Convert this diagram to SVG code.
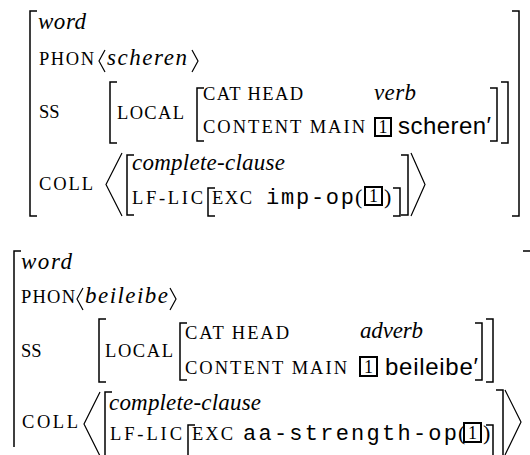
<svg xmlns="http://www.w3.org/2000/svg" width="530" height="455" viewBox="0 0 530 455">
<style>
.it{font-family:"Liberation Serif",serif;font-style:italic;font-size:23px;fill:#000}
.sc{font-family:"Liberation Serif",serif;font-size:18.5px;fill:#000}
.rm{font-family:"Liberation Serif",serif;font-size:22px;fill:#000}
.sf{font-family:"Liberation Sans",sans-serif;font-size:24px;fill:#000}
.tt{font-family:"Liberation Mono",monospace;font-size:22px;fill:#000}
.bx{font-family:"Liberation Serif",serif;font-size:18px;fill:#000;text-anchor:middle}
.br{fill:none;stroke:#000;stroke-width:1.5}
.ang{fill:none;stroke:#000;stroke-width:1.2}
.box{fill:none;stroke:#000;stroke-width:2}
</style>
<rect width="530" height="455" fill="#fff"/>
<g id="avm1">
  <path class="br" d="M37,11H30V216H37 M512,11H519V216H512"/>
  <text class="it" x="38" y="29" textLength="48">word</text>
  <text class="sc" x="39" y="65" textLength="55">PHON</text>
  <path class="ang" d="M105,50L99,61L105,72 M192,50L198,61L192,72"/>
  <text class="it" x="107" y="65" textLength="80">scheren</text>
  <text class="sc" x="39" y="118">SS</text>
  <path class="br" d="M117,82H110V143H117 M204,88H197V141H204 M490,88H497V141H490 M501,82H508V143H501"/>
  <text class="sc" x="117" y="119" textLength="67">LOCAL</text>
  <text class="sc" x="203" y="100" textLength="100">CAT HEAD</text>
  <text class="it" x="374" y="100" textLength="42">verb</text>
  <text class="sc" x="203" y="133" textLength="162">CONTENT MAIN</text>
  <rect class="box" x="375" y="118" width="16" height="18"/>
  <text class="bx" x="383" y="133">1</text>
  <text class="sf" x="398" y="134" textLength="93">scheren′</text>
  <text class="sc" x="39" y="190" textLength="54">COLL</text>
  <path class="ang" d="M122,153L106,184.5L122,216 M411,153L425,184.5L411,216"/>
  <path class="br" d="M134,155H127V215H134 M215,188H208V216H215 M393,188H400V216H393 M401,155H408V215H401"/>
  <text class="it" x="132" y="170" textLength="153">complete-clause</text>
  <text class="sc" x="132" y="204" textLength="71">LF-LIC</text>
  <text class="sc" x="212" y="204" textLength="40">EXC</text>
  <text class="tt" x="266" y="204" textLength="88">imp-op</text>
  <text class="rm" x="355" y="204">(</text>
  <rect class="box" x="365" y="187" width="17" height="18"/>
  <text class="bx" x="373.5" y="202">1</text>
  <text class="rm" x="384" y="204">)</text>
</g>
<g id="avm2">
  <path class="br" d="M21,251H14V447 M523,251H530"/>
  <text class="it" x="21" y="269" textLength="51">word</text>
  <text class="sc" x="21" y="303" textLength="54">PHON</text>
  <path class="ang" d="M83,288L77,299L83,310 M170,288L176,299L170,310"/>
  <text class="it" x="85" y="303" textLength="83">beileibe</text>
  <text class="sc" x="21" y="357">SS</text>
  <path class="br" d="M106,319H99V382H106 M187,323H180V380H187 M475,323H482V380H475 M486,319H493V382H486"/>
  <text class="sc" x="105" y="357" textLength="68">LOCAL</text>
  <text class="sc" x="185" y="339" textLength="104">CAT HEAD</text>
  <text class="it" x="360" y="338" textLength="63">adverb</text>
  <text class="sc" x="185" y="374" textLength="162">CONTENT MAIN</text>
  <rect class="box" x="360" y="357" width="17" height="19"/>
  <text class="bx" x="368.5" y="373">1</text>
  <text class="sf" x="385" y="375" textLength="93">beileibe′</text>
  <text class="sc" x="22" y="428" textLength="56">COLL</text>
  <path class="ang" d="M100,392L84,424L100,456 M505,390L521,422L505,455"/>
  <path class="br" d="M112,392H105V455 M195,425H188V455 M486,425H493V455 M496,390H503V455"/>
  <text class="it" x="109" y="410" textLength="152">complete-clause</text>
  <text class="sc" x="110" y="440" textLength="72">LF-LIC</text>
  <text class="sc" x="192" y="440" textLength="41">EXC</text>
  <text class="tt" x="243" y="440" textLength="214">aa-strength-op</text>
  <text class="rm" x="458" y="440">(</text>
  <rect class="box" x="464" y="423" width="17" height="19"/>
  <text class="bx" x="472.5" y="439">1</text>
  <text class="rm" x="483" y="440">)</text>
</g>
</svg>
